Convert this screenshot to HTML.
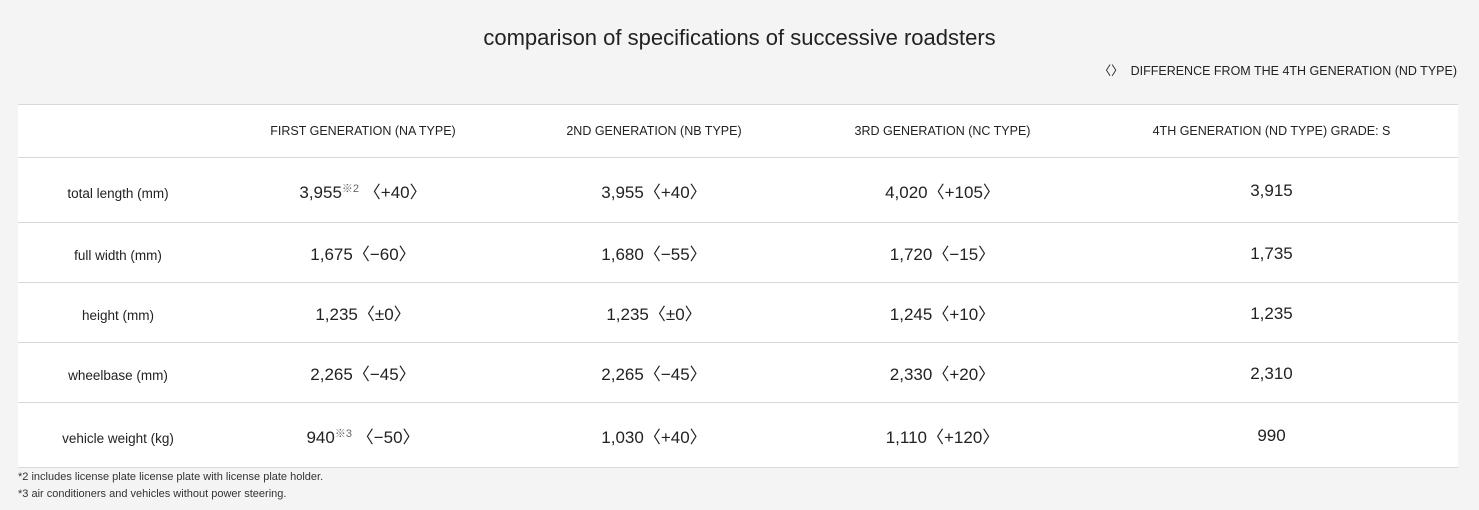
<!DOCTYPE html>
<html><head><meta charset="utf-8"><style>
body{margin:0;width:1479px;height:510px;background:#f4f4f4;font-family:"Liberation Sans","Noto Sans CJK JP",sans-serif;color:#222;position:relative;overflow:hidden}
.title{position:absolute;top:25px;left:0;width:1479px;text-align:center;font-size:22px;color:#222}
.leg{position:absolute;top:60px;right:22px;font-size:12.5px;color:#222}
table{position:absolute;left:18px;top:104px;width:1440px;border-collapse:collapse;background:#fff;table-layout:fixed}
td{text-align:center;border-top:1px solid #d8d8d8;border-bottom:1px solid #d8d8d8;padding:0;font-size:17px}
tr.h td{height:52px;font-size:12.5px}
td.l{font-size:13.5px;padding-top:6px}
td.v{padding-top:2px}
sup{font-size:11px;color:#666;vertical-align:6px;line-height:0}
.fn{position:absolute;left:18px;font-size:11px;color:#333}
</style></head><body>
<div class="title">comparison of specifications of successive roadsters</div>
<div class="leg">〈〉&nbsp; DIFFERENCE FROM THE 4TH GENERATION (ND TYPE)</div>
<table>
<colgroup><col style="width:200px"><col style="width:290px"><col style="width:292px"><col style="width:285px"><col style="width:373px"></colgroup>
<tr class="h"><td></td><td>FIRST GENERATION (NA TYPE)</td><td>2ND GENERATION (NB TYPE)</td><td>3RD GENERATION (NC TYPE)</td><td>4TH GENERATION (ND TYPE) GRADE: S</td></tr>
<tr style="height:65px"><td class="l">total length (mm)</td><td>3,955<sup>※2</sup> 〈+40〉</td><td>3,955〈+40〉</td><td>4,020〈+105〉</td><td class="v">3,915</td></tr>
<tr style="height:60px"><td class="l">full width (mm)</td><td>1,675〈−60〉</td><td>1,680〈−55〉</td><td>1,720〈−15〉</td><td class="v">1,735</td></tr>
<tr style="height:60px"><td class="l">height (mm)</td><td>1,235〈±0〉</td><td>1,235〈±0〉</td><td>1,245〈+10〉</td><td class="v">1,235</td></tr>
<tr style="height:60px"><td class="l">wheelbase (mm)</td><td>2,265〈−45〉</td><td>2,265〈−45〉</td><td>2,330〈+20〉</td><td class="v">2,310</td></tr>
<tr style="height:65px"><td class="l">vehicle weight (kg)</td><td>940<sup>※3</sup> 〈−50〉</td><td>1,030〈+40〉</td><td>1,110〈+120〉</td><td class="v">990</td></tr>
</table>
<div class="fn" style="top:471px">*2 includes license plate license plate with license plate holder.</div>
<div class="fn" style="top:488px">*3 air conditioners and vehicles without power steering.</div>
</body></html>
